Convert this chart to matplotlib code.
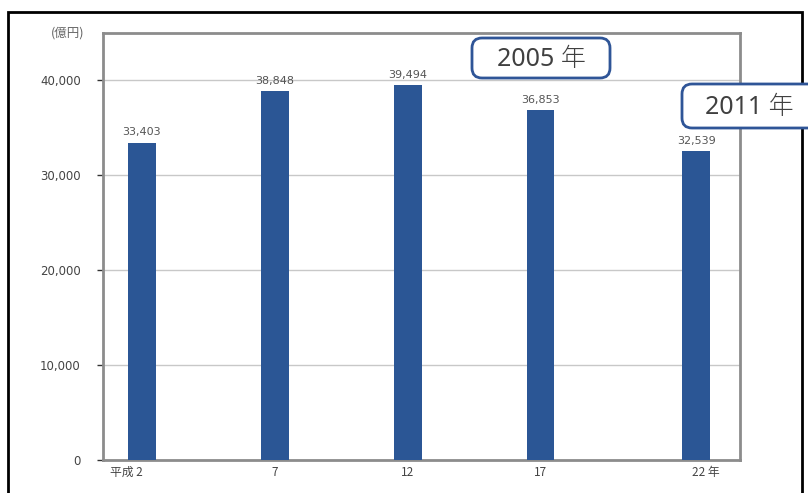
import matplotlib
matplotlib.use("Agg")
import matplotlib.pyplot as plt
from matplotlib.patches import FancyBboxPatch, Rectangle
from matplotlib.transforms import ScaledTranslation

plt.rcParams['font.family'] = ['Noto Sans CJK JP', 'DejaVu Sans']

# data
categories = ["平成 2", "7", "12", "17", "22 年"]
values = [33403, 38848, 39494, 36853, 32539]
value_labels = ["33,403", "38,848", "39,494", "36,853", "32,539"]
y_ticks = [0, 10000, 20000, 30000, 40000]
y_tick_labels = ["0", "10,000", "20,000", "30,000", "40,000"]
unit_label = "(億円)"
callouts = ["2005 年", "2011 年"]

# layout
positions = [0, 1, 2, 3, 4.17]

fig = plt.figure(figsize=(8.08, 4.93), dpi=100)
ax = fig.add_axes([103/808, 33/493, 637/808, 427/493])

bar_color = "#2b5695"
ax.bar(positions, values, width=0.21, color=bar_color, zorder=3)
for x, v, lab in zip(positions, values, value_labels):
    ax.text(x, v + 600, lab, ha='center', va='bottom', fontsize=8,
            color='#555555', family=['DejaVu Sans'], zorder=4)

ax.set_xlim(-0.29, 4.5)
ax.set_ylim(0, 45000)
ax.set_yticks(y_ticks)
ax.set_yticklabels(y_tick_labels, fontsize=8.5, color='#444444', family=['DejaVu Sans'])
ax.set_xticks(positions)
ax.set_xticklabels(categories, fontsize=8.5, color='#444444')
ax.tick_params(axis='x', length=0, pad=4)
ax.tick_params(axis='y', length=4, width=1, color='#333333', pad=12)
ax.grid(axis='y', color='#c8c8c8', linewidth=1, zorder=0)
for s in ax.spines.values():
    s.set_color('#8c8c8c')
    s.set_linewidth(2)

# shift first / last tick labels so the numbers sit under bars
lbls = ax.get_xticklabels()
lbls[0].set_transform(lbls[0].get_transform() + ScaledTranslation(-0.15, 0, fig.dpi_scale_trans))
lbls[-1].set_transform(lbls[-1].get_transform() + ScaledTranslation(0.1, 0, fig.dpi_scale_trans))

fig.text(68/808, 1 - 33/493, unit_label, ha='center', va='center', fontsize=9, color='#666666')

# outer frame
fig.patches.append(Rectangle((0.08, -0.2), 7.94, 4.93 - 0.12 + 0.2, transform=fig.dpi_scale_trans,
                             fill=False, edgecolor='black', linewidth=2))

# callout boxes
box_color = "#2f5597"
boxes = [((4.72, 4.15, 1.38, 0.40), (5.41, 4.34)),
         ((6.82, 3.65, 1.45, 0.44), (7.49, 3.86))]
for (bx, by, bw, bh), (tx, ty), txt in zip([b[0] for b in boxes], [b[1] for b in boxes], callouts):
    p = FancyBboxPatch((bx, by), bw, bh, boxstyle="round,pad=0,rounding_size=0.1",
                       transform=fig.dpi_scale_trans, facecolor='white',
                       edgecolor=box_color, linewidth=2, zorder=10)
    fig.patches.append(p)
    fig.text(tx, ty, txt, transform=fig.dpi_scale_trans, ha='center', va='center',
             fontsize=18, color='#404040', fontweight='light',
             family=['Noto Sans', 'Noto Sans CJK JP'], zorder=11)

fig.savefig("out.png", dpi=100)
